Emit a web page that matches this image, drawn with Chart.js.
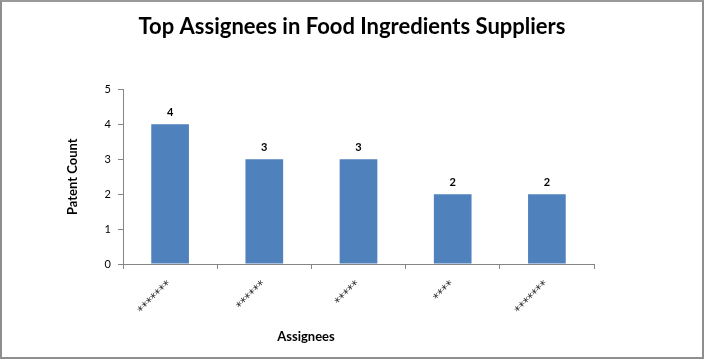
<!DOCTYPE html>
<html lang="en">
<head>
    <meta charset="UTF-8">
    <title>Top Assignees in Food Ingredients Suppliers</title>
    <script src="https://cdn.jsdelivr.net/npm/chart.js"></script>
    <style>
        body { margin: 0; background: #fff; }
        #frame { position: absolute; left: 0; top: 0; width: 700px; height: 355px; border: 2px solid #8e8e8e; border-top-color: #9a9a9a; }
        canvas { display: block; }
    </style>
</head>
<body>
    <div id="frame"><canvas id="patentChart" width="700" height="355"></canvas></div>

    <script>
        const assignees = ['*******', '******', '*****', '****', '*******'];
        const patentCounts = [4, 3, 3, 2, 2];
        const yTicks = [0, 1, 2, 3, 4, 5];

        const axisGrey = '#868686';

        // value labels above each bar, plus the x axis title
        const barLabels = {
            id: 'barLabels',
            afterDatasetsDraw(chart) {
                const ctx = chart.ctx;
                ctx.save();
                ctx.font = 'bold 11px Lato';
                ctx.fillStyle = '#000';
                ctx.textAlign = 'center';
                ctx.textBaseline = 'middle';
                chart.getDatasetMeta(0).data.forEach(function(bar, i) {
                    ctx.fillText(patentCounts[i], bar.x, bar.y - 12);
                });
                ctx.font = 'bold 13px Lato';
                ctx.fillText('Assignees', chart.chartArea.left + 183, 335);
                ctx.restore();
            }
        };

        const ctx = document.getElementById('patentChart').getContext('2d');
        new Chart(ctx, {
            type: 'bar',
            data: {
                labels: assignees,
                datasets: [{
                    label: 'Patent Count',
                    data: patentCounts,
                    backgroundColor: '#4f81bd',
                    barPercentage: 0.4,
                    categoryPercentage: 1.0
                }]
            },
            options: {
                responsive: false,
                animation: false,
                layout: { padding: 0 },
                plugins: {
                    legend: { display: false },
                    tooltip: { enabled: false },
                    title: {
                        display: true,
                        text: 'Top Assignees in Food Ingredients Suppliers',
                        color: '#000',
                        font: { family: 'Lato', size: 22, weight: 'bold' },
                        padding: { top: 12, bottom: 49 }
                    }
                },
                scales: {
                    x: {
                        afterFit(scale) { scale.height = 93; },
                        border: { color: axisGrey, width: 1 },
                        grid: { drawOnChartArea: false, color: axisGrey, tickLength: 5, offset: true },
                        ticks: {
                            color: '#222',
                            font: { family: 'DejaVu Sans', size: 12 },
                            minRotation: 45,
                            maxRotation: 45,
                            padding: 9,
                            autoSkip: false
                        }
                    },
                    y: {
                        min: 0,
                        max: 5,
                        afterFit(scale) { scale.width = 121; },
                        afterBuildTicks(scale) { scale.ticks = yTicks.map(function(v) { return { value: v }; }); },
                        border: { color: axisGrey, width: 1 },
                        grid: { drawOnChartArea: false, color: axisGrey, tickLength: 5 },
                        ticks: {
                            color: '#000',
                            font: { family: 'Lato', size: 11 },
                            padding: 7
                        },
                        title: {
                            display: true,
                            text: 'Patent Count',
                            color: '#000',
                            font: { family: 'Lato', size: 13, weight: 'bold' },
                            padding: { top: 63, bottom: 0 }
                        }
                    },
                    // empty right-hand margin, keeps the title centred on the whole frame
                    spacer: {
                        position: 'right',
                        afterFit(scale) { scale.width = 108; },
                        border: { display: false },
                        grid: { display: false },
                        ticks: { display: false }
                    }
                }
            },
            plugins: [barLabels]
        });
    </script>
</body>
</html>
